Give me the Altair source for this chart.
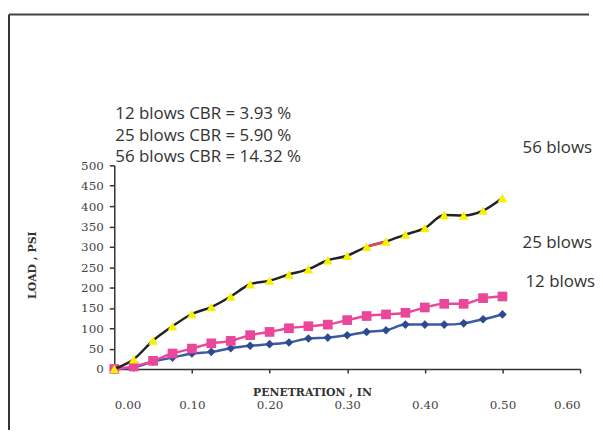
import altair as alt
import pandas as pd

penetration = [0.0, 0.025, 0.05, 0.075, 0.1, 0.125, 0.15, 0.175, 0.2, 0.225, 0.25,
               0.275, 0.3, 0.325, 0.35, 0.375, 0.4, 0.425, 0.45, 0.475, 0.5]
load_12 = [0, 4, 18, 28, 38, 42, 51, 57, 61, 65, 75, 77, 83, 91, 95, 109, 109, 109, 112, 122, 134]
load_25 = [0, 6, 20, 38, 50, 63, 69, 83, 91, 100, 105, 109, 120, 130, 134, 138, 151, 160, 160, 174, 178]
load_56 = [0, 24, 70, 105, 135, 152, 178, 208, 217, 232, 245, 267, 278, 300, 313, 330, 346, 378, 377, 389, 420]

x_ticks = [0.0, 0.1, 0.2, 0.3, 0.4, 0.5, 0.6]
y_ticks = [0, 50, 100, 150, 200, 250, 300, 350, 400, 450, 500]

cbr_lines = ["12 blows CBR = 3.93 %", "25 blows CBR = 5.90 %", "56 blows CBR = 14.32 %"]
end_labels = ["56 blows", "25 blows", "12 blows"]

W, H = 469, 205

df12 = pd.DataFrame({"pen": penetration, "load": load_12})
df25 = pd.DataFrame({"pen": penetration, "load": load_25})
df56 = pd.DataFrame({"pen": penetration, "load": load_56})
df_red = df56[(df56.pen >= 0.32) & (df56.pen <= 0.36)]

xs = alt.Scale(domain=[0, 0.6], nice=False)
ys = alt.Scale(domain=[0, 500], nice=False)

X = alt.X("pen:Q", scale=xs, axis=alt.Axis(
    values=x_ticks, format=".2f", title="PENETRATION , IN", grid=False,
    labelFont="DejaVu Serif", labelFontSize=12, labelColor="#444", labelPadding=27,
    titleFont="DejaVu Serif", titleFontSize=11, titleFontWeight="bold", titleColor="#333",
    titleX=199, titleY=24, titleBaseline="middle",
    domainColor="#333", domainWidth=1.5, tickColor="#333", tickSize=4, tickWidth=1.5))
Y = alt.Y("load:Q", scale=ys, axis=alt.Axis(
    values=y_ticks, title="LOAD , PSI", grid=False,
    labelFont="DejaVu Serif", labelFontSize=12, labelColor="#444", labelPadding=6,
    titleFont="DejaVu Serif", titleFontSize=11, titleFontWeight="bold", titleColor="#333",
    titleX=-82, titleY=100, titleAngle=-90, titleBaseline="middle",
    domainColor="#333", domainWidth=1.5, tickColor="#333", tickSize=5, tickWidth=1.5))

def series(df, line_color, pt_color, shape, size):
    base = alt.Chart(df).encode(x=X, y=Y)
    line = base.mark_line(color=line_color, strokeWidth=2.5, interpolate="monotone")
    pts = base.mark_point(shape=shape, filled=True, color=pt_color, size=size, opacity=1)
    return line + pts

s12 = series(df12, "#3B5BA5", "#2E4A8F", "diamond", 75)
s25 = series(df25, "#E8479A", "#E8479A", "square", 95)
line56 = alt.Chart(df56).encode(x=X, y=Y).mark_line(color="#222", strokeWidth=2.5, interpolate="monotone")
red56 = alt.Chart(df_red).encode(x=X, y=Y).mark_line(color="#D9534F", strokeWidth=2.5)
pts56 = alt.Chart(df56).encode(x=X, y=Y).mark_point(shape="triangle-up", filled=True,
                                                      color="#F7F000", size=95, opacity=1)

cbr_df = pd.DataFrame({"t": cbr_lines, "py": [-52, -30, -8]})
cbr_txt = alt.Chart(cbr_df).mark_text(align="left", baseline="middle", font="Open Sans",
                                      fontSize=17, color="#333").encode(
    x=alt.value(1), y=alt.Y("py:Q", scale=None), text="t:N")

end_df = pd.DataFrame({"t": end_labels, "px": [411, 411, 414], "py": [-17, 78, 117]})
end_txt = alt.Chart(end_df).mark_text(align="left", baseline="middle", font="Open Sans",
                                      fontSize=17, color="#333").encode(
    x=alt.X("px:Q", scale=None), y=alt.Y("py:Q", scale=None), text="t:N")

border_left = alt.Chart(pd.DataFrame({"a": [0]})).mark_rule(color="#333", strokeWidth=2).encode(
    x=alt.value(-106), y=alt.value(-152), y2=alt.value(280))
border_top = alt.Chart(pd.DataFrame({"a": [0]})).mark_rule(color="#444", strokeWidth=2).encode(
    x=alt.value(-106), x2=alt.value(478), y=alt.value(-152))

chart = alt.layer(
    border_left, border_top, s12, s25, line56, red56, pts56, cbr_txt, end_txt
).properties(
    width=W, height=H,
    autosize=alt.AutoSizeParams(type="none"),
    padding={"left": 107, "top": 157, "right": 15, "bottom": 60},
).configure_view(stroke=None)

chart.save("out.html", embed_options={"renderer": "svg", "actions": False})
